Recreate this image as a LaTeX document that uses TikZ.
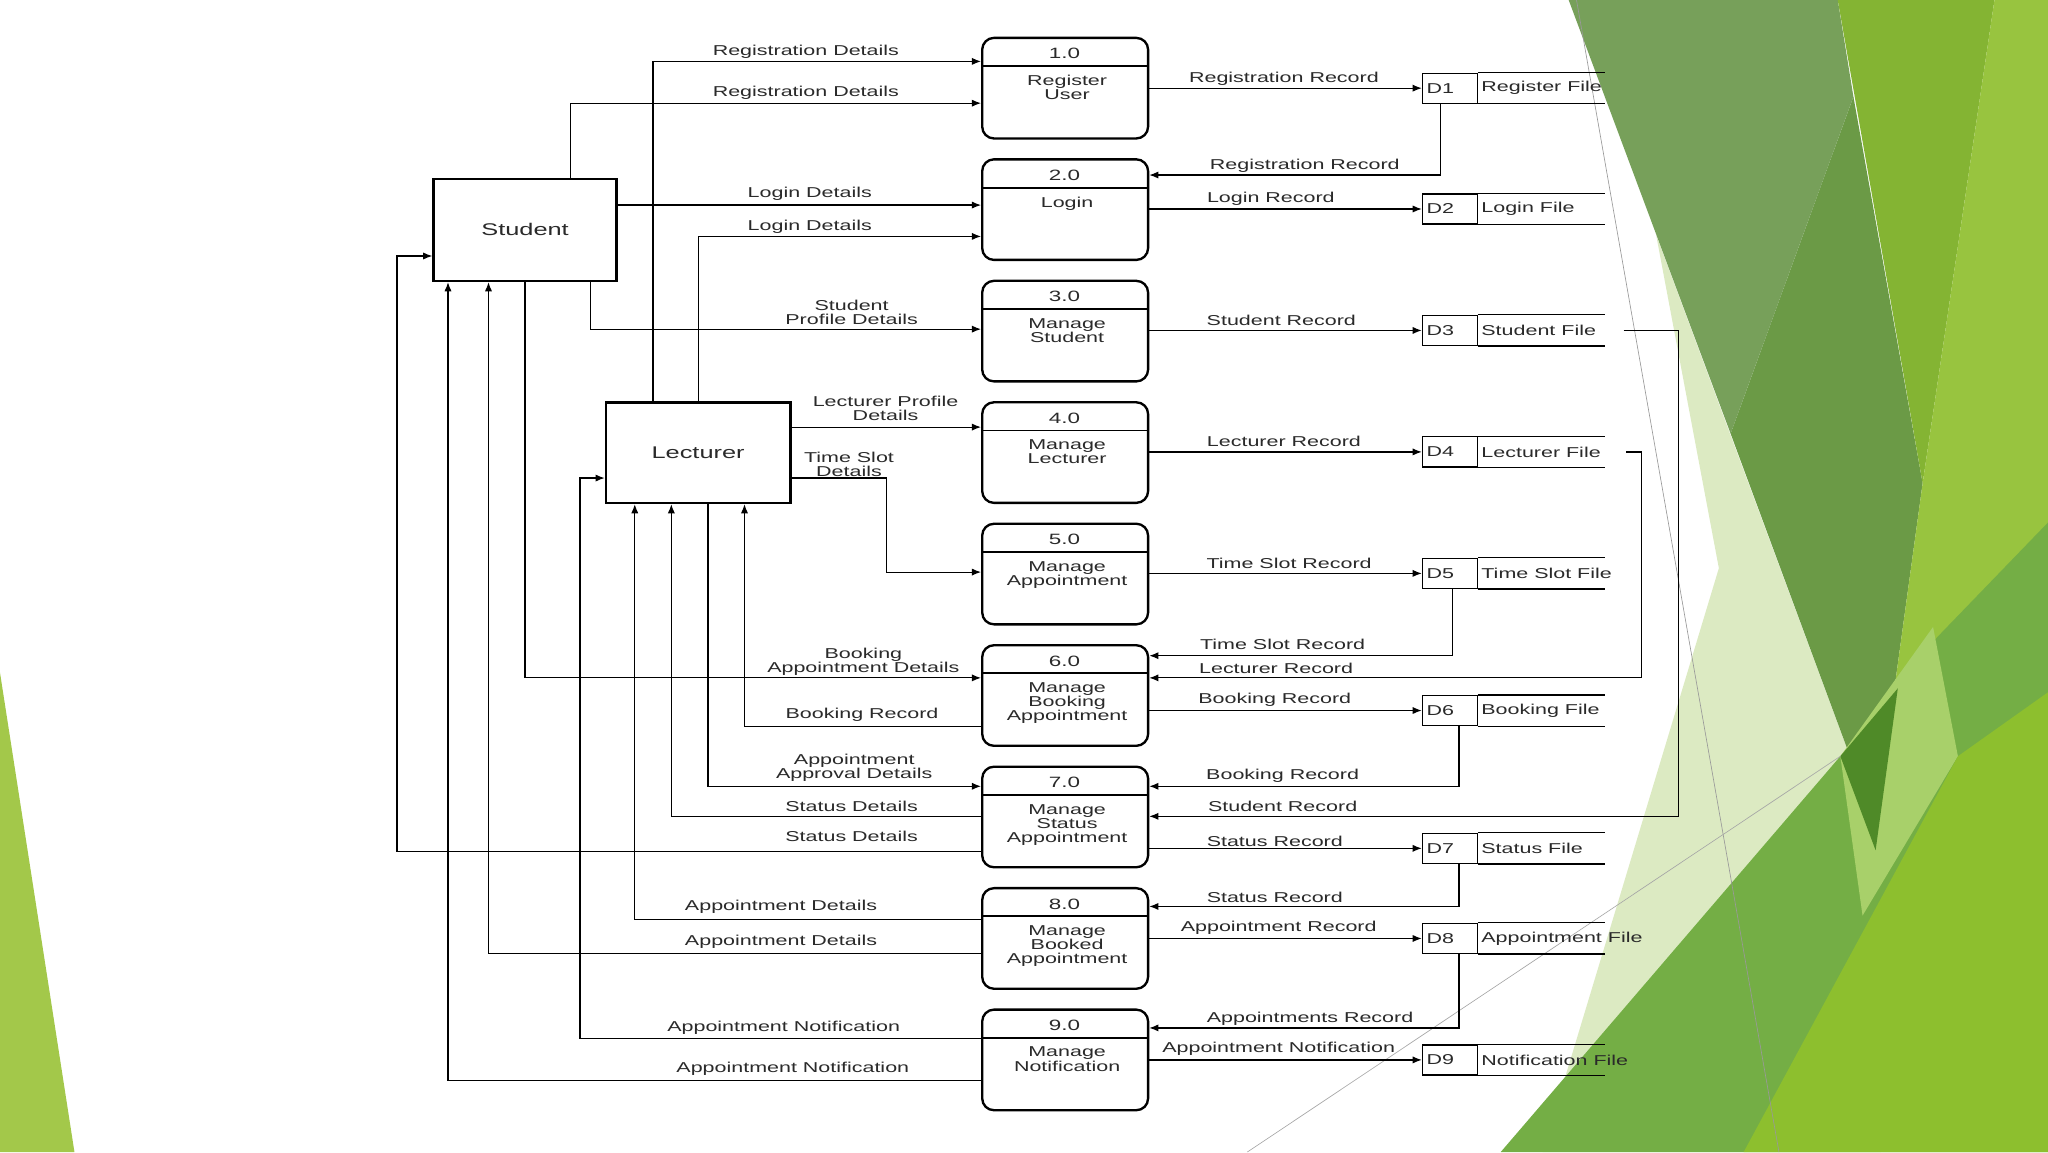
\documentclass[tikz,border=0pt]{standalone}
\usepackage{fontspec}
\setmainfont[FakeStretch=1.5]{Liberation Sans}
\usetikzlibrary{arrows.meta}
\definecolor{leftg}{HTML}{A3C84A}
\definecolor{paleg}{HTML}{DCEAC2}
\definecolor{oliveg}{HTML}{77A05A}
\definecolor{olivedk}{HTML}{6B9A46}
\definecolor{midg}{HTML}{84B433}
\definecolor{lightg}{HTML}{98C43F}
\definecolor{botg}{HTML}{74AE45}
\definecolor{bandg}{HTML}{A8D06A}
\definecolor{yellowg}{HTML}{8DBF2E}
\definecolor{darkt}{HTML}{4F8A28}
\definecolor{inkc}{HTML}{2A2A2A}
\begin{document}
\begin{tikzpicture}[x=1bp,y=-1bp,
  flow/.style={line width=0.9bp, draw=black, -{Latex[length=7bp,width=5.5bp]}},
  plain/.style={line width=0.9bp, draw=black},
  lbl/.style={font=\fontsize{11}{10.8}\selectfont, text=inkc, inner sep=0pt, align=center},
  numlbl/.style={font=\fontsize{11.5}{11.5}\selectfont, text=inkc, inner sep=0pt},
  proc/.style={draw, line width=1.8bp, rounded corners=9bp, minimum width=127bp, minimum height=77bp, inner sep=0pt},
  ent/.style={draw, line width=2bp, minimum width=140bp, minimum height=78bp, inner sep=0pt, text=inkc, font=\fontsize{13}{13}\selectfont},
  storeid/.style={draw, line width=0.9bp, minimum width=42bp, minimum height=23bp, inner sep=0pt}]

% background
\fill[white] (0,0) rectangle (1568,882);
\useasboundingbox (0,0) rectangle (1568,882);
\fill[leftg] (0,515) -- (0,882) -- (57,882) -- cycle;
\fill[paleg] (1268,180) -- (1316,435) -- (1181,882) -- (1440,882) -- (1436,632) -- cycle;
\fill[olivedk] (1419,74) -- (1325,332) -- (1436,632) -- (1472,370) -- cycle;
\fill[oliveg] (1201,0) -- (1407,0) -- (1419,74) -- (1325,332) -- cycle;
\fill[midg] (1407,0) -- (1527,0) -- (1472,370) -- cycle;
\fill[lightg] (1527,0) -- (1568,0) -- (1568,882) -- (1436,632) -- (1472,370) -- cycle;
\fill[botg] (1149,882) -- (1409,579) -- (1483,488) -- (1568,400) -- (1568,882) -- cycle;
\fill[bandg] (1480,480) -- (1499,579) -- (1426,701) -- (1409,579) -- cycle;
\fill[yellowg] (1335,882) -- (1499,579) -- (1568,530) -- (1568,882) -- cycle;
\fill[darkt] (1409,579) -- (1453,527) -- (1436,651) -- cycle;
\draw[black!40, line width=0.5bp] (1207,0) -- (1362,882);
\draw[black!35, line width=0.5bp] (955,882) -- (1409,579);

% entities
\node[ent] (st) at (402,176) {Student};
\node[ent, minimum width=141bp, minimum height=77bp] (le) at (534.5,346.5) {Lecturer};

% processes
\node[proc] (p1) at (815.5,67.5) {};
\node[proc] (p2) at (815.5,160.5) {};
\node[proc] (p3) at (815.5,253.5) {};
\node[proc] (p4) at (815.5,346.5) {};
\node[proc] (p5) at (815.5,439.5) {};
\node[proc] (p6) at (815.5,532.5) {};
\node[proc] (p7) at (815.5,625.5) {};
\node[proc] (p8) at (815.5,718.5) {};
\node[proc] (p9) at (815.5,811.5) {};
\foreach \k in {1,...,9}{
  \draw[line width=1.5bp] ([yshift=-22.5bp]p\k.north west) -- ([yshift=-22.5bp]p\k.north east);
}
\node[numlbl] (p1n) at (815,41) {1.0};
\node[numlbl] (p2n) at (815,134) {2.0};
\node[numlbl] (p3n) at (815,227) {3.0};
\node[numlbl] (p4n) at (815,320) {4.0};
\node[numlbl] (p5n) at (815,413) {5.0};
\node[numlbl] (p6n) at (815,506) {6.0};
\node[numlbl] (p7n) at (815,599) {7.0};
\node[numlbl] (p8n) at (815,692) {8.0};
\node[numlbl] (p9n) at (815,785) {9.0};
\node[lbl, anchor=north] (p1t) at (817,57.5) {Register\\User};
\node[lbl, anchor=north] (p2t) at (817,150.5) {Login};
\node[lbl, anchor=north] (p3t) at (817,243.5) {Manage\\Student};
\node[lbl, anchor=north] (p4t) at (817,336.5) {Manage\\Lecturer};
\node[lbl, anchor=north] (p5t) at (817,429.5) {Manage\\Appointment};
\node[lbl, anchor=north] (p6t) at (817,522.5) {Manage\\Booking\\Appointment};
\node[lbl, anchor=north] (p7t) at (817,615.5) {Manage\\Status\\Appointment};
\node[lbl, anchor=north] (p8t) at (817,708.5) {Manage\\Booked\\Appointment};
\node[lbl, anchor=north] (p9t) at (817,801.5) {Manage\\Notification};

% data stores
\foreach \k/\y/\f in {1/67.5/Register File, 2/160/Login File, 3/253/Student File,
  4/346/Lecturer File, 5/439/Time Slot File, 6/544/Booking File,
  7/649.5/Status File, 8/718.5/Appointment File, 9/811.5/Notification File}{
  \node[storeid] (d\k) at (1110,\y) {};
  \node[lbl, anchor=west] (d\k t) at (1092,\y) {D\k};
  \node[lbl, anchor=west] (d\k f) at (1134,\y) {\f};
  \draw[plain] (d\k.north east) -- (1229,0 |- d\k.north);
  \draw[plain] (d\k.south east) -- (1229,0 |- d\k.south);
}

% left flows
\draw[flow] (500,0 |- le.north) |- (p1.west |- 0,47);
\draw[flow] (437,0 |- st.north) |- (p1.west |- 0,79);
\draw[flow] (st.east |- 0,157) -- (p2.west |- 0,157);
\draw[flow] (535,0 |- le.north) |- (p2.west |- 0,181);
\draw[flow] (452,0 |- st.south) |- (p3.west |- 0,252);
\draw[flow] (le.east |- 0,327) -- (p4.west |- 0,327);
\draw[flow] (le.east |- 0,366) -| (679,438) -- (p5.west |- 0,438);
\draw[flow] (402,0 |- st.south) |- (p6.west |- 0,519);
\draw[flow] (p6.west |- 0,556) -| (570,0 |- le.south);
\draw[flow] (542,0 |- le.south) |- (p7.west |- 0,602);
\draw[flow] (p7.west |- 0,625) -| (514,0 |- le.south);
\draw[flow] (p7.west |- 0,652) -| (304,196) -- (st.west |- 0,196);
\draw[flow] (p8.west |- 0,704) -| (486,0 |- le.south);
\draw[flow] (p8.west |- 0,730) -| (374,0 |- st.south);
\draw[flow] (p9.west |- 0,795) -| (444,366) -- (le.west |- 0,366);
\draw[flow] (p9.west |- 0,827) -| (343,0 |- st.south);

% right flows
\draw[flow] (p1.east |- d1) -- (d1.west);
\draw[flow] (p2.east |- d2) -- (d2.west);
\draw[flow] (p3.east |- d3) -- (d3.west);
\draw[flow] (p4.east |- d4) -- (d4.west);
\draw[flow] (p5.east |- d5) -- (d5.west);
\draw[flow] (p6.east |- d6) -- (d6.west);
\draw[flow] (p7.east |- d7) -- (d7.west);
\draw[flow] (p8.east |- d8) -- (d8.west);
\draw[flow] (p9.east |- d9) -- (d9.west);
\draw[flow] (1103,0 |- d1.south) |- (p2.east |- 0,134);
\draw[flow] (1112,0 |- d5.south) |- (p6.east |- 0,502);
\coordinate (d4r) at (1245,346);
\draw[flow] (d4r) -| (1257,519) -- (p6.east |- 0,519);
\draw[flow] (1117,0 |- d6.south) |- (p7.east |- 0,602);
\coordinate (d3r) at (1243,253);
\draw[flow] (d3r) -| (1285,625) -- (p7.east |- 0,625);
\draw[flow] (1117,0 |- d7.south) |- (p8.east |- 0,694);
\draw[flow] (1117,0 |- d8.south) |- (p9.east |- 0,787);

% left labels
\node[lbl] (l1) at (617,40) {Registration Details};
\node[lbl] (l2) at (617,71) {Registration Details};
\node[lbl] (l3) at (620,148) {Login Details};
\node[lbl] (l4) at (620,174) {Login Details};
\node[lbl] (l5) at (652,239) {Student\\Profile Details};
\node[lbl] (l6) at (678,312.5) {Lecturer Profile\\Details};
\node[lbl] (l7) at (650,355.5) {Time Slot\\Details};
\node[lbl] (l8) at (661,506.5) {Booking\\Appointment Details};
\node[lbl] (l9) at (660,547) {Booking Record};
\node[lbl] (l10) at (654,587.5) {Appointment\\Approval Details};
\node[lbl] (l11) at (652,617) {Status Details};
\node[lbl] (l12) at (652,640) {Status Details};
\node[lbl] (l13) at (598,694) {Appointment Details};
\node[lbl] (l14) at (598,721) {Appointment Details};
\node[lbl] (l15) at (600,787) {Appointment Notification};
\node[lbl] (l16) at (607,818) {Appointment Notification};

% right labels
\node[lbl] (r1) at (983,60) {Registration Record};
\node[lbl] (r2) at (999,127) {Registration Record};
\node[lbl] (r3) at (973,152) {Login Record};
\node[lbl] (r4) at (981,245) {Student Record};
\node[lbl] (r5) at (983,338) {Lecturer Record};
\node[lbl] (r6) at (987,431) {Time Slot Record};
\node[lbl] (r7) at (982,493) {Time Slot Record};
\node[lbl] (r8) at (977,512) {Lecturer Record};
\node[lbl] (r9) at (976,536) {Booking Record};
\node[lbl] (r10) at (982,594) {Booking Record};
\node[lbl] (r11) at (982,617) {Student Record};
\node[lbl] (r12) at (976,644) {Status Record};
\node[lbl] (r13) at (976,687) {Status Record};
\node[lbl] (r14) at (979,710) {Appointment Record};
\node[lbl] (r15) at (1003,780) {Appointments Record};
\node[lbl] (r16) at (979,803) {Appointment Notification};
\end{tikzpicture}
\end{document}
